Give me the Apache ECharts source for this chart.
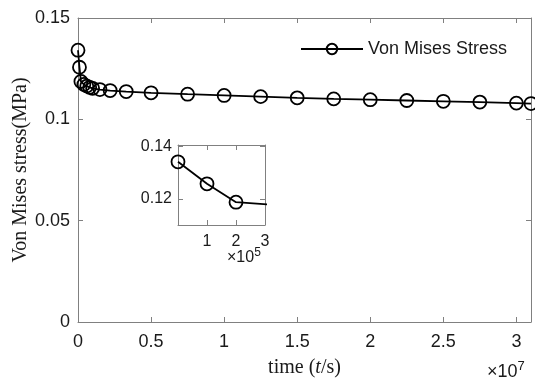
<!DOCTYPE html>
<html>
<head>
<meta charset="utf-8">
<script src="https://cdn.jsdelivr.net/npm/echarts@6/dist/echarts.min.js"></script>
<style>html,body{margin:0;padding:0;background:#fff}#c{width:535px;height:378px}</style>
</head>
<body>
<div id="c"></div>
<script>
// time in seconds
var times = [0, 1e5, 2e5, 4e5, 6e5, 8e5, 1e6, 1.5e6, 2.2e6, 3.3e6, 5e6, 7.5e6, 1e7, 1.25e7, 1.5e7, 1.75e7, 2e7, 2.25e7, 2.5e7, 2.75e7, 3e7, 3.1e7];
// Von Mises stress (MPa)
var stress = [0.1341, 0.1257, 0.1187, 0.1172, 0.1164, 0.1158, 0.1153, 0.1147, 0.1142, 0.1137, 0.1131, 0.1124, 0.1118, 0.1112, 0.1106, 0.1101, 0.1097, 0.1093, 0.1089, 0.1085, 0.1080, 0.1078];

var mainXTicks = [0, 0.5e7, 1e7, 1.5e7, 2e7, 2.5e7, 3e7];
var mainYTicks = [0, 0.05, 0.1, 0.15];
var insetXTicks = [1e5, 2e5, 3e5];
var insetYTicks = [0.12, 0.14];
var seriesName = 'Von Mises Stress';

var pts = times.map(function (t, i) { return [t, stress[i]]; });

var axisGray = '#808080';
var labelColor = '#1a1a1a';
var sans = 'Liberation Sans, Arial, sans-serif';
var serif = 'Liberation Serif, Times New Roman, serif';

function fmt(v, d) { return String(+v.toFixed(d)); }

function axisBase(pos, min, max, ticks, gridIndex, showLabels, fmtFn, fs, margin) {
  return {
    type: 'value', gridIndex: gridIndex, position: pos, min: min, max: max,
    splitLine: { show: false },
    axisLine: { show: true, onZero: false, lineStyle: { color: axisGray, width: 1 } },
    axisTick: { show: true, inside: true, length: 5, customValues: ticks, lineStyle: { color: axisGray } },
    axisLabel: showLabels ? { show: true, customValues: ticks, formatter: fmtFn, color: labelColor, fontFamily: sans, fontSize: fs, margin: margin } : { show: false }
  };
}

var markerStyle = { color: 'rgba(0,0,0,0)', borderColor: '#000', borderWidth: 1.8 };

var chart = echarts.init(document.getElementById('c'), null, { renderer: 'canvas' });
var option = {
  animation: false,
  backgroundColor: '#fff',
  grid: [
    { left: 78, top: 18, width: 453, height: 304, outerBoundsMode: 'none', containLabel: false },
    { left: 178, top: 145, width: 87, height: 80, outerBoundsMode: 'none', containLabel: false }
  ],
  xAxis: [
    Object.assign(axisBase('bottom', 0, 3.1e7, mainXTicks, 0, true, function (v) { return fmt(v / 1e7, 1); }, 18, 11), {
      name: '{a|time (}{i|t}{a|/s)}', nameLocation: 'middle', nameGap: 36, nameMoveOverlap: false,
      nameTextStyle: { rich: { a: { fontFamily: serif, fontSize: 20, color: labelColor }, i: { fontFamily: serif, fontSize: 20, fontStyle: 'italic', color: labelColor } } }
    }),
    axisBase('top', 0, 3.1e7, mainXTicks, 0, false),
    axisBase('bottom', 0, 3e5, insetXTicks, 1, true, function (v) { return fmt(v / 1e5, 0); }, 16, 9),
    axisBase('top', 0, 3e5, insetXTicks, 1, false)
  ],
  yAxis: [
    Object.assign(axisBase('left', 0, 0.15, mainYTicks, 0, true, function (v) { return fmt(v, 2); }, 18, 8), {
      name: 'Von Mises stress(MPa)', nameLocation: 'middle', nameGap: 47, nameRotate: 90, nameMoveOverlap: false,
      nameTextStyle: { fontFamily: serif, fontSize: 20, color: labelColor }
    }),
    axisBase('right', 0, 0.15, mainYTicks, 0, false),
    axisBase('left', 0.11, 0.1405, insetYTicks, 1, true, function (v) { return fmt(v, 2); }, 16, 6),
    axisBase('right', 0.11, 0.1405, insetYTicks, 1, false)
  ],
  legend: {
    data: [seriesName], left: 300, top: 40, padding: 0, itemWidth: 62, itemHeight: 13, itemGap: 6,
    textStyle: { fontFamily: sans, fontSize: 18, color: labelColor }
  },
  graphic: [
    { type: 'text', left: 487, top: 360, style: { text: '{x|×10}{s|7}', rich: { x: { fontFamily: sans, fontSize: 18, fill: labelColor }, s: { fontFamily: sans, fontSize: 13, fill: labelColor, padding: [0, 0, 12, 0] } } } },
    { type: 'text', left: 227, top: 247, style: { text: '{x|×10}{s|5}', rich: { x: { fontFamily: sans, fontSize: 16, fill: labelColor }, s: { fontFamily: sans, fontSize: 12, fill: labelColor, padding: [0, 0, 10, 0] } } } }
  ],
  series: [
    {
      name: seriesName, type: 'line', xAxisIndex: 0, yAxisIndex: 0, data: pts, clip: true,
      symbol: 'circle', symbolSize: 13, showAllSymbol: true,
      lineStyle: { color: '#000', width: 1.8 },
      itemStyle: markerStyle
    },
    {
      name: 'inset', type: 'line', xAxisIndex: 2, yAxisIndex: 2, data: pts, clip: true,
      symbol: 'circle', symbolSize: 13, showAllSymbol: true,
      lineStyle: { color: '#000', width: 1.8 },
      itemStyle: markerStyle
    }
  ]
};
chart.setOption(option);
</script>
</body>
</html>
